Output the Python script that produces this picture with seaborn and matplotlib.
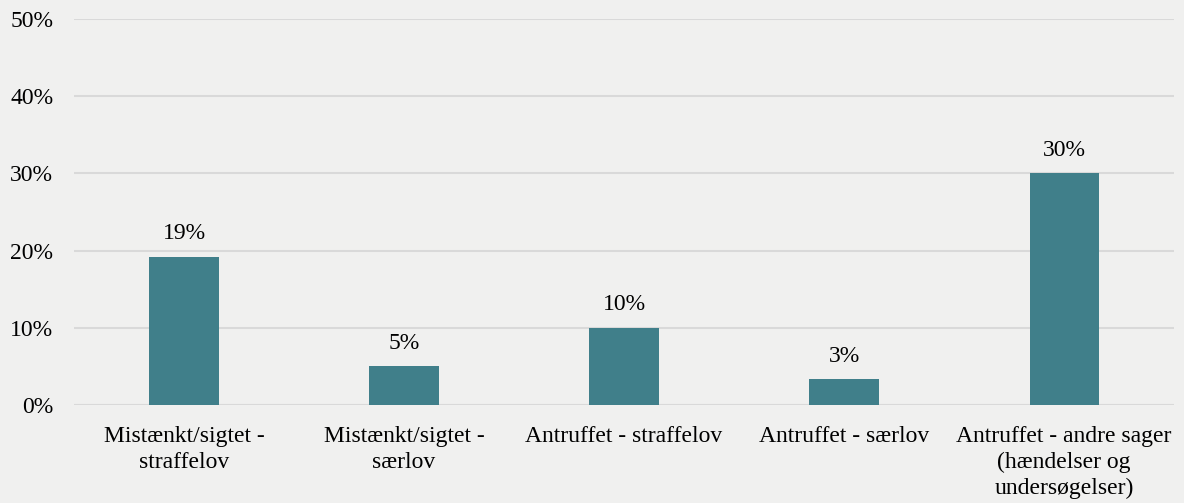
import matplotlib
matplotlib.use("Agg")
import matplotlib.pyplot as plt
import seaborn as sns

# Andel af sager fordelt på type
categories = [
    "Mistænkt/sigtet -\nstraffelov",
    "Mistænkt/sigtet -\nsærlov",
    "Antruffet - straffelov",
    "Antruffet - særlov",
    "Antruffet - andre sager\n(hændelser og\nundersøgelser)",
]
values = [19.2, 5.0, 10.0, 3.35, 30.0]
y_ticks = [0, 10, 20, 30, 40, 50]

bg = "#f0f0ef"
bar_color = "#407f8a"
grid_color = "#d9d9d9"

sns.set_style("white")
plt.rcParams["font.family"] = ["Liberation Serif", "DejaVu Serif"]

fig = plt.figure(figsize=(11.84, 5.03), dpi=100, facecolor=bg)
ax = fig.add_axes([0.0625, 0.1948, 0.9291, 0.7674])
ax.set_facecolor(bg)

sns.barplot(x=categories, y=values, color=bar_color, width=0.314, ax=ax,
            saturation=1, edgecolor=bar_color, linewidth=0)

ax.set_ylim(0, 50)
ax.set_xlim(-0.5, len(categories) - 0.5)
ax.set_yticks(y_ticks)
ax.set_yticklabels([f"{t}%" for t in y_ticks])
ax.yaxis.grid(True, color=grid_color, linewidth=1.5)
ax.set_axisbelow(True)
for s in ax.spines.values():
    s.set_visible(False)
ax.axhline(0, color=grid_color, linewidth=1.5, zorder=0.5)

ax.tick_params(axis="y", length=0, pad=15, labelsize=17, colors="black")
ax.tick_params(axis="x", length=0, pad=15, labelsize=17, colors="black")
for lbl in ax.get_xticklabels():
    lbl.set_linespacing(1.3)

ax.bar_label(ax.containers[0], labels=[f"{round(v)}%" for v in values],
             padding=9, fontsize=17, color="black")

ax.set_xlabel("")
ax.set_ylabel("")

fig.savefig("out.png", dpi=100, facecolor=bg)
